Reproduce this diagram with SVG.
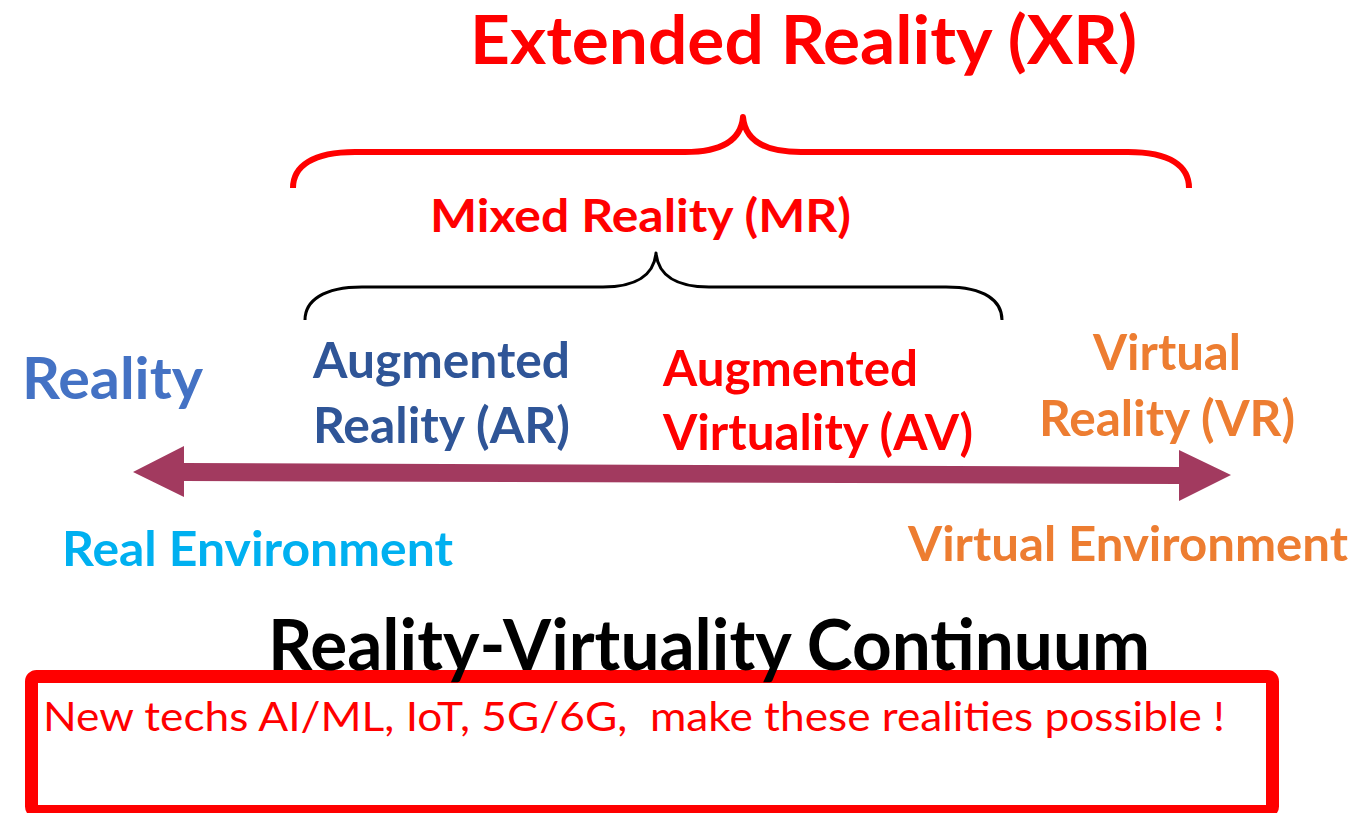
<svg xmlns="http://www.w3.org/2000/svg" width="1350" height="813" viewBox="0 0 1350 813">
<style>
.b{font-family:Lato,"Open Sans","Liberation Sans",sans-serif;font-weight:700}
.r{font-family:Lato,"Open Sans","Liberation Sans",sans-serif;font-weight:400}
.brace{fill:none;stroke-linecap:butt;stroke-linejoin:round}
</style>
<rect width="1350" height="813" fill="#FFFFFF"/>
<g id="note">
<rect x="31.5" y="676.5" width="1241" height="135" rx="5" fill="none" stroke="#FF0000" stroke-width="13"/>
<text class="r" x="43" y="731" font-size="40" fill="#FF0000" textLength="1182" lengthAdjust="spacingAndGlyphs" xml:space="preserve">New techs AI/ML, IoT, 5G/6G,  make these realities possible !</text>
</g>
<g id="connectors">
<path id="xr-brace" class="brace" stroke="#FF0000" stroke-width="6" d="M293,188 C293,166 313,152 355,152 L685,152 C722,152 741,140 743,117 C745,140 764,152 801,152 L1128,152 C1170,152 1189,166 1189,188"/>
<path id="mr-brace" class="brace" stroke="#000000" stroke-width="3" d="M305,320 C305,301 323,287 362,287 L603,287 C636,287 654,275 656,253 C658,275 676,287 709,287 L946,287 C985,287 1002,301 1002,320"/>
<polygon id="continuum-arrow" fill="#A23A5F" points="133,472 184,446 184,463 1179,467 1179,450 1231,475 1179,501 1179,484 184,481 184,497"/>
</g>
<g id="xr">
<text class="b" x="470" y="64" font-size="67" fill="#FF0000" textLength="667" lengthAdjust="spacingAndGlyphs">Extended Reality (XR)</text>
</g>
<g id="mr">
<text class="b" x="430" y="232" font-size="46" fill="#FF0000" textLength="421" lengthAdjust="spacingAndGlyphs">Mixed Reality (MR)</text>
</g>
<g id="reality">
<text class="b" x="22" y="399" font-size="57" fill="#4472C4" textLength="181" lengthAdjust="spacingAndGlyphs">Reality</text>
</g>
<g id="ar">
<text class="b" x="313" y="378" font-size="50" fill="#2F5597" textLength="257" lengthAdjust="spacingAndGlyphs">Augmented</text>
<text class="b" x="313" y="443" font-size="50" fill="#2F5597" textLength="257" lengthAdjust="spacingAndGlyphs">Reality (AR)</text>
</g>
<g id="av">
<text class="b" x="663" y="386" font-size="50" fill="#FF0000" textLength="255" lengthAdjust="spacingAndGlyphs">Augmented</text>
<text class="b" x="663" y="450" font-size="50" fill="#FF0000" textLength="310" lengthAdjust="spacingAndGlyphs">Virtuality (AV)</text>
</g>
<g id="vr">
<text class="b" x="1093" y="370" font-size="50" fill="#ED7D31" textLength="148" lengthAdjust="spacingAndGlyphs">Virtual</text>
<text class="b" x="1039" y="436" font-size="50" fill="#ED7D31" textLength="256" lengthAdjust="spacingAndGlyphs">Reality (VR)</text>
</g>
<g id="real-env">
<text class="b" x="62" y="566" font-size="47" fill="#00B0F0" textLength="391" lengthAdjust="spacingAndGlyphs">Real Environment</text>
</g>
<g id="virtual-env">
<text class="b" x="908" y="561" font-size="47" fill="#ED7D31" textLength="440" lengthAdjust="spacingAndGlyphs">Virtual Environment</text>
</g>
<g id="continuum">
<text class="b" x="268" y="670" font-size="71" fill="#000000" textLength="882" lengthAdjust="spacingAndGlyphs">Reality-Virtuality Continuum</text>
</g>
</svg>
